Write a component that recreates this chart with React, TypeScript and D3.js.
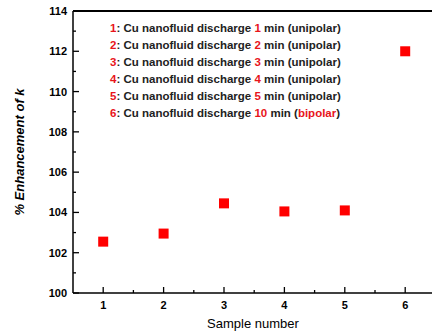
import { useEffect, useRef } from "react";
import * as d3 from "d3";

// sample numbers and measured enhancement (%)
const samples = [1, 2, 3, 4, 5, 6];
const enhancement = [102.55, 102.95, 104.45, 104.05, 104.1, 112.0];
const yTicks = [100, 102, 104, 106, 108, 110, 112, 114];
const durations = ["1", "2", "3", "4", "5", "10"];
const modes = ["unipolar", "unipolar", "unipolar", "unipolar", "unipolar", "bipolar"];

export default function App() {
  const ref = useRef<SVGSVGElement>(null);

  useEffect(() => {
    const svg = d3.select(ref.current);
    svg.selectAll("*").remove();

    const width = 432;
    const left = 73;
    const top = 11;
    const bottom = 293;
    const right = 435.4;

    const x = d3.scaleLinear().domain([0.5, 6.5]).range([left, right]);
    const y = d3.scaleLinear().domain([100, 114]).range([bottom, top]);

    const font = "'Liberation Sans', Arial, sans-serif";
    const g = svg.append("g");

    // frame
    g.append("line").attr("x1", left).attr("x2", width + 5).attr("y1", top).attr("y2", top)
      .attr("stroke", "#000").attr("stroke-width", 2);
    g.append("line").attr("x1", left).attr("x2", left).attr("y1", top).attr("y2", bottom)
      .attr("stroke", "#000").attr("stroke-width", 1.5);
    g.append("line").attr("x1", left).attr("x2", width + 5).attr("y1", bottom).attr("y2", bottom)
      .attr("stroke", "#000").attr("stroke-width", 1.5);

    // y ticks (major + minor, inward)
    d3.range(100, 114.01, 1).forEach((v) => {
      const major = v % 2 === 0;
      g.append("line")
        .attr("x1", left).attr("x2", left + (major ? 6 : 3))
        .attr("y1", y(v)).attr("y2", y(v))
        .attr("stroke", "#000").attr("stroke-width", 1.3);
    });
    yTicks.forEach((v) => {
      g.append("text")
        .attr("x", left - 6).attr("y", y(v) + 4)
        .attr("text-anchor", "end")
        .style("font-family", font).style("font-size", "11px").style("font-weight", "bold")
        .text(v);
    });

    // x ticks
    d3.range(1, 6.51, 0.5).forEach((v) => {
      const major = Number.isInteger(v);
      g.append("line")
        .attr("x1", x(v)).attr("x2", x(v))
        .attr("y1", bottom).attr("y2", bottom - (major ? 6 : 3))
        .attr("stroke", "#000").attr("stroke-width", 1.3);
    });
    samples.forEach((s) => {
      g.append("text")
        .attr("x", x(s)).attr("y", 309)
        .attr("text-anchor", "middle")
        .style("font-family", font).style("font-size", "11px").style("font-weight", "bold")
        .text(s);
    });

    // axis titles
    g.append("text")
      .attr("x", 253).attr("y", 328)
      .attr("text-anchor", "middle")
      .style("font-family", font).style("font-size", "13px")
      .text("Sample number");

    g.append("text")
      .attr("transform", `translate(24,${(top + bottom) / 2}) rotate(-90)`)
      .attr("text-anchor", "middle")
      .style("font-family", font).style("font-size", "13px")
      .style("font-weight", "bold").style("font-style", "italic")
      .text("% Enhancement of k");

    // legend text
    samples.forEach((s, i) => {
      const t = g.append("text")
        .attr("x", 110).attr("y", 32 + i * 17)
        .style("font-family", font).style("font-size", "11.5px").style("font-weight", "bold");
      t.append("tspan").attr("fill", "#e8141b").text(String(s));
      t.append("tspan").attr("fill", "#222").text(": Cu nanofluid discharge ");
      t.append("tspan").attr("fill", "#e8141b").text(durations[i]);
      t.append("tspan").attr("fill", "#222").text(" min (");
      t.append("tspan").attr("fill", modes[i] === "bipolar" ? "#e8141b" : "#222").text(modes[i]);
      t.append("tspan").attr("fill", "#222").text(")");
    });

    // data squares
    const size = 10;
    g.selectAll("rect.pt")
      .data(samples)
      .join("rect")
      .attr("class", "pt")
      .attr("x", (d) => x(d) - size / 2)
      .attr("y", (d, i) => y(enhancement[i]) - size / 2)
      .attr("width", size)
      .attr("height", size)
      .attr("fill", "#ff0000");
  }, []);

  return (
    <svg
      ref={ref}
      width={432}
      height={333}
      style={{ position: "absolute", left: 0, top: 0, background: "#fff" }}
    />
  );
}
